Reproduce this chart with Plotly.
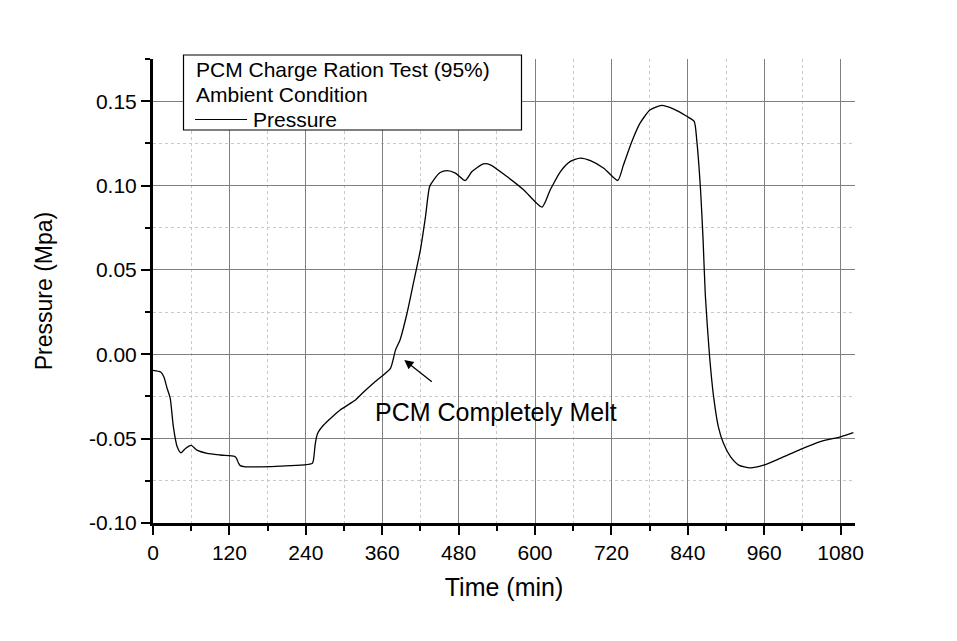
import plotly.graph_objects as go

# ---- data ----
time_min = [0, 12, 17, 22, 27, 32, 38, 44, 51, 60, 69, 85, 106, 128, 131, 134.5, 137, 145,
            169, 200, 250, 252, 255, 258.5, 268, 294, 318, 326, 346, 373, 377, 381, 388,
            399, 409, 420, 428, 434.5, 441, 451, 462, 475, 490.5, 501, 519, 530, 556, 582,
            611, 624, 640, 655, 671, 687, 708, 730, 739, 752, 765, 781, 799, 818, 839, 850,
            854, 860, 864, 867.5, 874, 880.5, 888, 896, 907, 920, 938, 959, 985, 1017,
            1048, 1080, 1100]
pressure = [-0.0095, -0.0105, -0.0133, -0.020, -0.026, -0.043, -0.0548, -0.0584, -0.0558,
            -0.054, -0.0568, -0.0587, -0.0597, -0.0605, -0.0615, -0.0647, -0.0660, -0.0667,
            -0.0667, -0.0663, -0.0647, -0.0627, -0.0528, -0.0469, -0.0419, -0.033, -0.0271,
            -0.0241, -0.0172, -0.0083, -0.0034, 0.0026, 0.0085, 0.0243, 0.0421, 0.0619,
            0.0816, 0.0994, 0.1034, 0.1077, 0.1089, 0.1074, 0.103, 0.1083, 0.1129, 0.1123,
            0.1053, 0.0975, 0.0872, 0.0975, 0.1083, 0.1142, 0.1163, 0.1148, 0.1103, 0.103,
            0.1123, 0.126, 0.137, 0.1449, 0.1475, 0.1453, 0.1409, 0.138, 0.1271, 0.0975,
            0.0678, 0.035, -0.0004, -0.0251, -0.043, -0.0528, -0.0607, -0.0657, -0.0673,
            -0.0657, -0.0617, -0.0564, -0.0518, -0.0489, -0.0465]

x_ticks = [0, 120, 240, 360, 480, 600, 720, 840, 960, 1080]
x_minor = [60, 180, 300, 420, 540, 660, 780, 900, 1020]
y_ticks = [-0.10, -0.05, 0.00, 0.05, 0.10, 0.15]
y_ticktext = ["-0.10", "-0.05", "0.00", "0.05", "0.10", "0.15"]
y_minor = [-0.075, -0.025, 0.025, 0.075, 0.125, 0.175]

legend_lines = ["PCM Charge Ration Test (95%)", "Ambient Condition", "Pressure"]
note_text = "PCM Completely Melt"
melt_point = (394.7, -0.0034)

FONT = "Liberation Sans, Arial, sans-serif"

fig = go.Figure()
fig.add_trace(go.Scatter(x=time_min, y=pressure, mode="lines", name="Pressure",
                         line=dict(color="black", width=1.3, shape="spline", smoothing=0.6),
                         showlegend=False))

# plot area geometry (pixels) for paper conversions
W, H = 957, 641
L, R, T, B = 153, 102, 59, 118
pw, ph = W - L - R, H - T - B
def px(xp):
    return (xp - L) / pw
def py(yp):
    return (H - B - yp) / ph

shapes = [
    dict(type="rect", xref="paper", yref="paper", x0=px(183.5), x1=px(521.5),
         y0=py(130), y1=py(55), line=dict(color="black", width=1.2), fillcolor="white", layer="above"),
    dict(type="line", xref="paper", yref="paper", x0=px(195), x1=px(247),
         y0=py(119.5), y1=py(119.5), line=dict(color="black", width=1.2), layer="above"),
]

annotations = [
    dict(xref="paper", yref="paper", x=px(194), y=py(69), text=legend_lines[0], showarrow=False,
         xanchor="left", yanchor="middle", font=dict(family=FONT, size=21, color="black")),
    dict(xref="paper", yref="paper", x=px(194), y=py(94), text=legend_lines[1], showarrow=False,
         xanchor="left", yanchor="middle", font=dict(family=FONT, size=21, color="black")),
    dict(xref="paper", yref="paper", x=px(251), y=py(119), text=legend_lines[2], showarrow=False,
         xanchor="left", yanchor="middle", font=dict(family=FONT, size=21, color="black")),
    dict(x=melt_point[0], y=melt_point[1], xref="x", yref="y", text="", showarrow=True,
         arrowhead=2, arrowsize=1.4, arrowwidth=1.3, arrowcolor="black", ax=29, ay=23,
         standoff=0),
    dict(x=538, y=-0.0345, xref="x", yref="y", text=note_text, showarrow=False,
         xanchor="center", yanchor="middle", font=dict(family=FONT, size=25, color="black")),
]

axis_common = dict(
    showline=True, linewidth=3, linecolor="black", mirror=False,
    ticks="outside", ticklen=9, tickwidth=2, tickcolor="black",
    showgrid=True, gridcolor="#808080", gridwidth=1, zeroline=False,
    tickfont=dict(family=FONT, size=21, color="black"),
)

fig.update_layout(
    width=W, height=H,
    margin=dict(l=L, r=R, t=T, b=B),
    paper_bgcolor="white", plot_bgcolor="white",
    font=dict(family=FONT, color="black"),
    shapes=shapes, annotations=annotations,
    xaxis=dict(
        range=[0, 1102.6], tickmode="array", tickvals=x_ticks,
        ticktext=[str(v) for v in x_ticks],
        minor=dict(tickmode="array", tickvals=x_minor, ticks="outside", ticklen=5,
                   tickwidth=2, tickcolor="black", showgrid=True, gridcolor="#c8c8c8",
                   griddash="3px,3px", gridwidth=1),
        title=dict(text="Time (min)", font=dict(family=FONT, size=25, color="black"), standoff=16),
        **axis_common,
    ),
    yaxis=dict(
        range=[-0.10, 0.175], tickmode="array", tickvals=y_ticks, ticktext=y_ticktext,
        minor=dict(tickmode="array", tickvals=y_minor, ticks="outside", ticklen=5,
                   tickwidth=2, tickcolor="black", showgrid=True, gridcolor="#c8c8c8",
                   griddash="3px,3px", gridwidth=1),
        title=dict(text="Pressure (Mpa)", font=dict(family=FONT, size=23, color="black"), standoff=30),
        **axis_common,
    ),
)

fig.write_html("out.html")
